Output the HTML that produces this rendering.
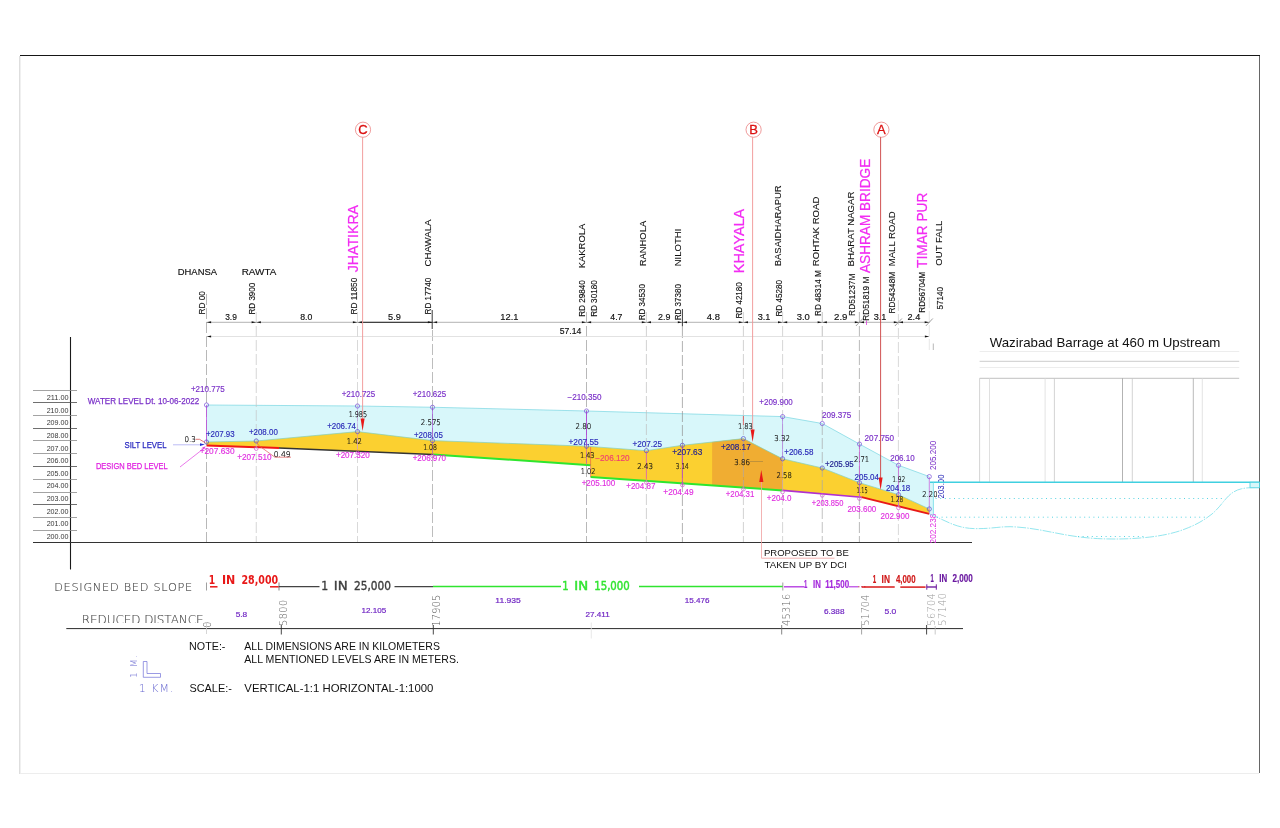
<!DOCTYPE html>
<html lang="en">
<head>
<meta charset="utf-8">
<title>Longitudinal Section</title>
<style>
html,body{margin:0;padding:0;background:#fff;}
body{width:1280px;height:828px;overflow:hidden;font-family:"Liberation Sans",sans-serif;}
svg{display:block;position:absolute;left:0;top:0;}
text{white-space:pre;}
</style>
</head>
<body>
<svg width="1280" height="828" viewBox="0 0 1280 828" font-family='"Liberation Sans", sans-serif'>
<rect x="0" y="0" width="1280" height="828" fill="#ffffff"/>
<g id="frame" shape-rendering="crispEdges">
<rect x="19" y="56" width="1" height="718" fill="#dedede"/>
<rect x="20" y="56" width="1" height="718" fill="#f0f0f0"/>
<rect x="20" y="773" width="1239" height="1" fill="#ededed"/>
<rect x="1259" y="55" width="1" height="718" fill="#666666"/>
<rect x="20" y="55" width="1240" height="1" fill="#161616"/>
</g>
<g id="scale">
<line x1="70.5" y1="337" x2="70.5" y2="569.5" stroke="#1a1a1a" stroke-width="1.1" />
<line x1="33" y1="390.5" x2="77" y2="390.5" stroke="#8c8c8c" stroke-width="0.8" />
<line x1="33" y1="402.5" x2="77" y2="402.5" stroke="#4a4a4a" stroke-width="0.8" />
<line x1="33" y1="415.5" x2="77" y2="415.5" stroke="#8c8c8c" stroke-width="0.8" />
<line x1="33" y1="428.5" x2="77" y2="428.5" stroke="#4a4a4a" stroke-width="0.8" />
<line x1="33" y1="440.5" x2="77" y2="440.5" stroke="#8c8c8c" stroke-width="0.8" />
<line x1="33" y1="453.5" x2="77" y2="453.5" stroke="#8c8c8c" stroke-width="0.8" />
<line x1="33" y1="466.5" x2="77" y2="466.5" stroke="#4a4a4a" stroke-width="0.8" />
<line x1="33" y1="479.5" x2="77" y2="479.5" stroke="#8c8c8c" stroke-width="0.8" />
<line x1="33" y1="492.5" x2="77" y2="492.5" stroke="#8c8c8c" stroke-width="0.8" />
<line x1="33" y1="504.5" x2="77" y2="504.5" stroke="#4a4a4a" stroke-width="0.8" />
<line x1="33" y1="517.5" x2="77" y2="517.5" stroke="#8c8c8c" stroke-width="0.8" />
<line x1="33" y1="530.5" x2="77" y2="530.5" stroke="#8c8c8c" stroke-width="0.8" />
<line x1="33" y1="542.5" x2="972" y2="542.5" stroke="#333" stroke-width="1" />
<text x="46.63" y="400.06" font-size="8.0" fill="#1a1a1a" textLength="21.92" lengthAdjust="spacingAndGlyphs" opacity="0.9">211.00</text>
<text x="46.64" y="412.69" font-size="8.0" fill="#1a1a1a" textLength="21.90" lengthAdjust="spacingAndGlyphs" opacity="0.9">210.00</text>
<text x="46.64" y="425.32" font-size="8.0" fill="#1a1a1a" textLength="21.90" lengthAdjust="spacingAndGlyphs" opacity="0.9">209.00</text>
<text x="46.64" y="437.95" font-size="8.0" fill="#1a1a1a" textLength="21.90" lengthAdjust="spacingAndGlyphs" opacity="0.9">208.00</text>
<text x="46.64" y="450.58" font-size="8.0" fill="#1a1a1a" textLength="21.90" lengthAdjust="spacingAndGlyphs" opacity="0.9">207.00</text>
<text x="46.64" y="463.21" font-size="8.0" fill="#1a1a1a" textLength="21.90" lengthAdjust="spacingAndGlyphs" opacity="0.9">206.00</text>
<text x="46.64" y="475.84" font-size="8.0" fill="#1a1a1a" textLength="21.90" lengthAdjust="spacingAndGlyphs" opacity="0.9">205.00</text>
<text x="46.64" y="488.47" font-size="8.0" fill="#1a1a1a" textLength="21.90" lengthAdjust="spacingAndGlyphs" opacity="0.9">204.00</text>
<text x="46.64" y="501.10" font-size="8.0" fill="#1a1a1a" textLength="21.90" lengthAdjust="spacingAndGlyphs" opacity="0.9">203.00</text>
<text x="46.64" y="513.73" font-size="8.0" fill="#1a1a1a" textLength="21.90" lengthAdjust="spacingAndGlyphs" opacity="0.9">202.00</text>
<text x="46.64" y="526.36" font-size="8.0" fill="#1a1a1a" textLength="21.90" lengthAdjust="spacingAndGlyphs" opacity="0.9">201.00</text>
<text x="46.64" y="538.99" font-size="8.0" fill="#1a1a1a" textLength="21.90" lengthAdjust="spacingAndGlyphs" opacity="0.9">200.00</text>
</g>
<g id="profile">
<polygon points="206.50,405.00 357.50,406.00 432.50,407.25 586.50,411.00 782.60,416.60 822.25,423.50 859.50,444.10 898.50,465.30 929.30,476.60 929.30,513.80 929.30,509.00 898.50,494.70 859.50,482.70 822.25,468.00 782.60,458.80 743.40,438.60 682.40,445.30 646.40,450.70 586.50,446.20 432.50,440.60 357.50,431.60 256.25,441.00 206.50,442.00" fill="#d8f7fa"/>
<polygon points="206.50,442.00 256.25,441.00 357.50,431.60 432.50,440.60 586.50,446.20 646.40,450.70 682.40,445.30 743.40,438.60 782.60,458.80 822.25,468.00 859.50,482.70 898.50,494.70 929.30,509.00 929.30,513.90 926.60,513.20 861.60,497.20 782.60,490.40 590.60,477.10 590.60,465.20 433.00,454.40 279.00,447.90 206.50,445.50" fill="#fbd030"/>
<rect x="929.3" y="482.3" width="4.1" height="31.6" fill="#d8f7fa"/>
<polygon points="712.10,442.04 743.40,438.60 782.60,458.80 782.60,490.40 712.10,485.52" fill="#f0ad32"/>
<polyline points="206.50,405.00 357.50,406.00 432.50,407.25 586.50,411.00 782.60,416.60 822.25,423.50 859.50,444.10 898.50,465.30 929.30,476.60" fill="none" stroke="#86dbe5" stroke-width="0.8"/>
<polyline points="206.50,442.00 256.25,441.00 357.50,431.60 432.50,440.60 586.50,446.20 646.40,450.70 682.40,445.30 743.40,438.60 782.60,458.80 822.25,468.00 859.50,482.70 898.50,494.70 929.30,509.00" fill="none" stroke="#7ccfc0" stroke-width="0.7"/>
<line x1="206.5" y1="445.5" x2="279" y2="447.9" stroke="#f01818" stroke-width="2" stroke-linecap="butt"/>
<line x1="279" y1="447.9" x2="433" y2="454.4" stroke="#333" stroke-width="1.5" stroke-linecap="butt"/>
<line x1="433" y1="454.4" x2="590.6" y2="465.2" stroke="#2ee62e" stroke-width="2.0" stroke-linecap="butt"/>
<line x1="590.6" y1="477.1" x2="782.6" y2="490.4" stroke="#2ee62e" stroke-width="2.0" stroke-linecap="butt"/>
<line x1="782.6" y1="490.4" x2="861.6" y2="497.2" stroke="#b030d0" stroke-width="1.6" stroke-linecap="butt"/>
<line x1="861.6" y1="497.2" x2="929.3" y2="513.9" stroke="#e81818" stroke-width="1.9" stroke-linecap="butt"/>
</g>
<g id="dashes" stroke-width="0.7" stroke-dasharray="11 3">
<line x1="206.5" y1="294" x2="206.5" y2="542" stroke="#9a9a9a"/>
<line x1="256.25" y1="312" x2="256.25" y2="542" stroke="#c4c4c4"/>
<line x1="357.5" y1="312" x2="357.5" y2="542" stroke="#c8c8c8"/>
<line x1="432.5" y1="330" x2="432.5" y2="542" stroke="#a0a0a0"/>
<line x1="586.5" y1="312" x2="586.5" y2="542" stroke="#9a9a9a"/>
<line x1="646.4" y1="312" x2="646.4" y2="542" stroke="#c0c0c0"/>
<line x1="682.4" y1="327" x2="682.4" y2="542" stroke="#909090"/>
<line x1="743.4" y1="312" x2="743.4" y2="542" stroke="#c0c0c0"/>
<line x1="782.6" y1="312" x2="782.6" y2="542" stroke="#c4c4c4"/>
<line x1="822.25" y1="312" x2="822.25" y2="542" stroke="#a8a8a8"/>
<line x1="859.4" y1="312" x2="859.4" y2="542" stroke="#9c9c9c"/>
<line x1="898.4" y1="300" x2="898.4" y2="542" stroke="#c8c8c8"/>
<line x1="929.3" y1="297" x2="929.3" y2="350" stroke="#dcdcdc"/>
</g>
<line x1="933.3" y1="343.5" x2="933.3" y2="350" stroke="#999" stroke-width="0.7" />
<g id="stlines">
<line x1="206.5" y1="405" x2="206.5" y2="442" stroke="#c048e0" stroke-width="0.9" opacity="0.85"/>
<line x1="357.5" y1="406" x2="357.5" y2="431.5" stroke="#b060e0" stroke-width="0.63" opacity="0.51"/>
<line x1="357.5" y1="432" x2="357.5" y2="450" stroke="#e060c0" stroke-width="0.63" opacity="0.51"/>
<line x1="432.5" y1="407.3" x2="432.5" y2="440" stroke="#a040d8" stroke-width="0.9" opacity="0.68"/>
<line x1="432.5" y1="440" x2="432.5" y2="454.5" stroke="#c040c0" stroke-width="0.81" opacity="0.51"/>
<line x1="586.5" y1="411" x2="586.5" y2="446" stroke="#b040d8" stroke-width="0.99" opacity="0.85"/>
<line x1="586.5" y1="446" x2="586.5" y2="465" stroke="#d050b0" stroke-width="0.81" opacity="0.68"/>
<line x1="590.6" y1="447" x2="590.6" y2="477" stroke="#e84848" stroke-width="0.81" opacity="0.68"/>
<line x1="646.4" y1="451" x2="646.4" y2="479.5" stroke="#e850a0" stroke-width="0.81" opacity="0.85"/>
<line x1="682.4" y1="445.5" x2="682.4" y2="485.5" stroke="#c040c8" stroke-width="0.9" opacity="0.85"/>
<line x1="743.4" y1="416" x2="743.4" y2="425" stroke="#e03030" stroke-width="0.81" opacity="0.85"/>
<line x1="743.4" y1="439" x2="743.4" y2="488" stroke="#b08050" stroke-width="0.54" opacity="0.59"/>
<line x1="782.6" y1="417" x2="782.6" y2="458.5" stroke="#a860e0" stroke-width="0.72" opacity="0.85"/>
<line x1="782.6" y1="459" x2="782.6" y2="491" stroke="#c880a0" stroke-width="0.54" opacity="0.59"/>
<line x1="859.5" y1="444.5" x2="859.5" y2="497" stroke="#d050d0" stroke-width="0.81" opacity="0.85"/>
<line x1="898.5" y1="465.5" x2="898.5" y2="506" stroke="#c858d8" stroke-width="0.81" opacity="0.85"/>
<line x1="929.3" y1="477" x2="929.3" y2="513.5" stroke="#c050d8" stroke-width="0.81" opacity="0.85"/>
</g>
<g id="circ" fill="none" stroke-width="0.7">
<circle cx="206.5" cy="405" r="2.1" stroke="#7a50d8"/>
<circle cx="357.5" cy="406" r="2.1" stroke="#7a50d8"/>
<circle cx="432.5" cy="407.25" r="2.1" stroke="#7a50d8"/>
<circle cx="586.5" cy="411" r="2.1" stroke="#7a50d8"/>
<circle cx="782.6" cy="416.6" r="2.1" stroke="#7a50d8"/>
<circle cx="822.25" cy="423.5" r="2.1" stroke="#7a50d8"/>
<circle cx="859.5" cy="444.1" r="2.1" stroke="#7a50d8"/>
<circle cx="898.5" cy="465.3" r="2.1" stroke="#7a50d8"/>
<circle cx="929.3" cy="476.6" r="2.1" stroke="#7a50d8"/>
<circle cx="206.5" cy="442" r="2.1" stroke="#5a50c8"/>
<circle cx="256.25" cy="441" r="2.1" stroke="#5a50c8"/>
<circle cx="357.5" cy="431.6" r="2.1" stroke="#5a50c8"/>
<circle cx="432.5" cy="440.6" r="2.1" stroke="#5a50c8"/>
<circle cx="586.5" cy="446.2" r="2.1" stroke="#5a50c8"/>
<circle cx="646.4" cy="450.7" r="2.1" stroke="#5a50c8"/>
<circle cx="682.4" cy="445.3" r="2.1" stroke="#5a50c8"/>
<circle cx="743.4" cy="438.6" r="2.1" stroke="#5a50c8"/>
<circle cx="782.6" cy="458.8" r="2.1" stroke="#5a50c8"/>
<circle cx="822.25" cy="468" r="2.1" stroke="#5a50c8"/>
<circle cx="859.5" cy="482.7" r="2.1" stroke="#5a50c8"/>
<circle cx="898.5" cy="494.7" r="2.1" stroke="#5a50c8"/>
<circle cx="929.3" cy="509" r="2.1" stroke="#5a50c8"/>
<circle cx="256.25" cy="448.7" r="1.8" stroke="#d050d0"/>
<circle cx="357.5" cy="452.8" r="1.8" stroke="#d050d0"/>
<circle cx="432.5" cy="456.0" r="1.8" stroke="#d050d0"/>
<circle cx="646.4" cy="482.6" r="1.8" stroke="#d050d0"/>
<circle cx="682.4" cy="485.1" r="1.8" stroke="#d050d0"/>
<circle cx="743.4" cy="489.3" r="1.8" stroke="#d050d0"/>
<circle cx="782.6" cy="492.0" r="1.8" stroke="#d050d0"/>
<circle cx="822.25" cy="495.4" r="1.8" stroke="#d050d0"/>
<circle cx="859.4" cy="498.6" r="1.8" stroke="#d050d0"/>
<circle cx="898.4" cy="507.9" r="1.8" stroke="#d050d0"/>
</g>
<g id="dims">
<line x1="206.5" y1="322.3" x2="929.5" y2="322.3" stroke="#a0a0a0" stroke-width="0.8" />
<line x1="362.5" y1="322.3" x2="432.5" y2="322.3" stroke="#222" stroke-width="1" />
<line x1="206.5" y1="336.5" x2="929.5" y2="336.5" stroke="#dadada" stroke-width="0.8" />
<polygon points="206.8,322.3 211.1,321.3 211.1,323.3" fill="#111"/>
<polygon points="255.95,322.3 251.65,321.3 251.65,323.3" fill="#111"/>
<polygon points="256.55,322.3 260.85,321.3 260.85,323.3" fill="#111"/>
<polygon points="357.2,322.3 352.9,321.3 352.9,323.3" fill="#111"/>
<polygon points="357.8,322.3 362.1,321.3 362.1,323.3" fill="#111"/>
<polygon points="432.2,322.3 427.9,321.3 427.9,323.3" fill="#111"/>
<polygon points="432.8,322.3 437.1,321.3 437.1,323.3" fill="#111"/>
<polygon points="586.2,322.3 581.9,321.3 581.9,323.3" fill="#111"/>
<polygon points="586.8,322.3 591.1,321.3 591.1,323.3" fill="#111"/>
<polygon points="646.1,322.3 641.8,321.3 641.8,323.3" fill="#111"/>
<polygon points="646.6999999999999,322.3 651.0,321.3 651.0,323.3" fill="#111"/>
<polygon points="682.1,322.3 677.8,321.3 677.8,323.3" fill="#111"/>
<polygon points="682.6999999999999,322.3 687.0,321.3 687.0,323.3" fill="#111"/>
<polygon points="743.1,322.3 738.8,321.3 738.8,323.3" fill="#111"/>
<polygon points="743.6999999999999,322.3 748.0,321.3 748.0,323.3" fill="#111"/>
<polygon points="782.3000000000001,322.3 778.0,321.3 778.0,323.3" fill="#111"/>
<polygon points="782.9,322.3 787.2,321.3 787.2,323.3" fill="#111"/>
<polygon points="821.95,322.3 817.65,321.3 817.65,323.3" fill="#111"/>
<polygon points="822.55,322.3 826.85,321.3 826.85,323.3" fill="#111"/>
<polygon points="859.1,322.3 854.8,321.3 854.8,323.3" fill="#111"/>
<polygon points="859.6999999999999,322.3 864.0,321.3 864.0,323.3" fill="#111"/>
<polygon points="898.1,322.3 893.8,321.3 893.8,323.3" fill="#111"/>
<polygon points="898.6999999999999,322.3 903.0,321.3 903.0,323.3" fill="#111"/>
<polygon points="929.0,322.3 924.6999999999999,321.3 924.6999999999999,323.3" fill="#111"/>
<polygon points="206.8,336.5 211.1,335.5 211.1,337.5" fill="#111"/>
<polygon points="929.2,336.5 924.9,335.5 924.9,337.5" fill="#111"/>
<text x="225.21" y="319.77" font-size="8.6" fill="#111" textLength="11.67" lengthAdjust="spacingAndGlyphs" stroke="#111" stroke-width="0.15">3.9</text>
<text x="300.15" y="319.77" font-size="8.6" fill="#111" textLength="12.16" lengthAdjust="spacingAndGlyphs" stroke="#111" stroke-width="0.15">8.0</text>
<text x="388.13" y="319.77" font-size="8.6" fill="#111" textLength="12.78" lengthAdjust="spacingAndGlyphs" stroke="#111" stroke-width="0.15">5.9</text>
<text x="500.30" y="319.81" font-size="8.6" fill="#111" textLength="18.13" lengthAdjust="spacingAndGlyphs" stroke="#111" stroke-width="0.15">12.1</text>
<text x="610.33" y="319.77" font-size="8.6" fill="#111" textLength="12.07" lengthAdjust="spacingAndGlyphs" stroke="#111" stroke-width="0.15">4.7</text>
<text x="658.06" y="319.77" font-size="8.6" fill="#111" textLength="12.35" lengthAdjust="spacingAndGlyphs" stroke="#111" stroke-width="0.15">2.9</text>
<text x="706.81" y="319.77" font-size="8.6" fill="#111" textLength="13.07" lengthAdjust="spacingAndGlyphs" stroke="#111" stroke-width="0.15">4.8</text>
<text x="757.68" y="319.77" font-size="8.6" fill="#111" textLength="12.73" lengthAdjust="spacingAndGlyphs" stroke="#111" stroke-width="0.15">3.1</text>
<text x="796.67" y="319.77" font-size="8.6" fill="#111" textLength="13.16" lengthAdjust="spacingAndGlyphs" stroke="#111" stroke-width="0.15">3.0</text>
<text x="834.02" y="319.77" font-size="8.6" fill="#111" textLength="13.42" lengthAdjust="spacingAndGlyphs" stroke="#111" stroke-width="0.15">2.9</text>
<text x="873.68" y="319.77" font-size="8.6" fill="#111" textLength="12.73" lengthAdjust="spacingAndGlyphs" stroke="#111" stroke-width="0.15">3.1</text>
<text x="907.54" y="319.81" font-size="8.6" fill="#111" textLength="12.69" lengthAdjust="spacingAndGlyphs" stroke="#111" stroke-width="0.15">2.4</text>
<text x="559.66" y="334.22" font-size="8.6" fill="#111" textLength="21.58" lengthAdjust="spacingAndGlyphs" stroke="#111" stroke-width="0.15">57.14</text>
<line x1="432.2" y1="310" x2="432.2" y2="329" stroke="#222" stroke-width="0.9" />
<line x1="682.4" y1="309" x2="682.4" y2="326.5" stroke="#222" stroke-width="0.9" />
<line x1="855.9" y1="326" x2="862.9" y2="318.5" stroke="#777" stroke-width="0.7" />
<line x1="894.9" y1="326" x2="901.9" y2="318.5" stroke="#777" stroke-width="0.7" />
<line x1="925.8" y1="326" x2="932.8" y2="318.5" stroke="#777" stroke-width="0.7" />
<line x1="866.5" y1="320.5" x2="866.5" y2="325" stroke="#e040e0" stroke-width="0.8" />
</g>
<g id="rd">
<text x="204.90" y="314.46" transform="rotate(-90 204.90 314.46)" font-size="8.4" fill="#111" textLength="23.45" lengthAdjust="spacingAndGlyphs" stroke="#111" stroke-width="0.12">RD 00</text>
<text x="255.40" y="314.44" transform="rotate(-90 255.40 314.44)" font-size="8.4" fill="#111" textLength="31.74" lengthAdjust="spacingAndGlyphs" stroke="#111" stroke-width="0.12">RD 3900</text>
<text x="356.70" y="314.46" transform="rotate(-90 356.70 314.46)" font-size="8.4" fill="#111" textLength="36.74" lengthAdjust="spacingAndGlyphs" stroke="#111" stroke-width="0.12">RD 11850</text>
<text x="431.20" y="314.45" transform="rotate(-90 431.20 314.45)" font-size="8.4" fill="#111" textLength="36.76" lengthAdjust="spacingAndGlyphs" stroke="#111" stroke-width="0.12">RD 17740</text>
<text x="585.00" y="316.85" transform="rotate(-90 585.00 316.85)" font-size="8.4" fill="#111" textLength="36.56" lengthAdjust="spacingAndGlyphs" stroke="#111" stroke-width="0.12">RD 29840</text>
<text x="597.20" y="316.85" transform="rotate(-90 597.20 316.85)" font-size="8.4" fill="#111" textLength="36.56" lengthAdjust="spacingAndGlyphs" stroke="#111" stroke-width="0.12">RD 30180</text>
<text x="645.40" y="320.24" transform="rotate(-90 645.40 320.24)" font-size="8.4" fill="#111" textLength="36.15" lengthAdjust="spacingAndGlyphs" stroke="#111" stroke-width="0.12">RD 34530</text>
<text x="681.40" y="320.24" transform="rotate(-90 681.40 320.24)" font-size="8.4" fill="#111" textLength="36.15" lengthAdjust="spacingAndGlyphs" stroke="#111" stroke-width="0.12">RD 37380</text>
<text x="742.50" y="318.44" transform="rotate(-90 742.50 318.44)" font-size="8.4" fill="#111" textLength="36.25" lengthAdjust="spacingAndGlyphs" stroke="#111" stroke-width="0.12">RD 42180</text>
<text x="781.70" y="316.55" transform="rotate(-90 781.70 316.55)" font-size="8.4" fill="#111" textLength="36.56" lengthAdjust="spacingAndGlyphs" stroke="#111" stroke-width="0.12">RD 45280</text>
<text x="821.00" y="315.95" transform="rotate(-90 821.00 315.95)" font-size="8.4" fill="#111" textLength="45.69" lengthAdjust="spacingAndGlyphs" stroke="#111" stroke-width="0.12">RD 48314 M</text>
<text x="855.10" y="315.87" transform="rotate(-90 855.10 315.87)" font-size="8.4" fill="#111" textLength="42.32" lengthAdjust="spacingAndGlyphs" stroke="#111" stroke-width="0.12">RD51237M</text>
<text x="868.90" y="320.66" transform="rotate(-90 868.90 320.66)" font-size="8.4" fill="#111" textLength="43.99" lengthAdjust="spacingAndGlyphs" stroke="#111" stroke-width="0.12">RD51819 M</text>
<text x="895.40" y="313.46" transform="rotate(-90 895.40 313.46)" font-size="8.4" fill="#111" textLength="41.60" lengthAdjust="spacingAndGlyphs" stroke="#111" stroke-width="0.12">RD54348M</text>
<text x="924.70" y="312.64" transform="rotate(-90 924.70 312.64)" font-size="8.4" fill="#111" textLength="40.78" lengthAdjust="spacingAndGlyphs" stroke="#111" stroke-width="0.12">RD56704M</text>
<text x="943.10" y="309.42" transform="rotate(-90 943.10 309.42)" font-size="8.4" fill="#111" textLength="22.41" lengthAdjust="spacingAndGlyphs" stroke="#111" stroke-width="0.12">57140</text>
</g>
<g id="names">
<text x="177.75" y="275.11" font-size="9.6" fill="#111" textLength="39.28" lengthAdjust="spacingAndGlyphs" stroke="#111" stroke-width="0.15">DHANSA</text>
<text x="241.71" y="275.11" font-size="9.6" fill="#111" textLength="34.59" lengthAdjust="spacingAndGlyphs" stroke="#111" stroke-width="0.15">RAWTA</text>
<text x="430.91" y="266.48" transform="rotate(-90 430.91 266.48)" font-size="9.6" fill="#111" textLength="46.99" lengthAdjust="spacingAndGlyphs" stroke="#111" stroke-width="0.08">CHAWALA</text>
<text x="585.11" y="268.25" transform="rotate(-90 585.11 268.25)" font-size="9.6" fill="#111" textLength="44.49" lengthAdjust="spacingAndGlyphs" stroke="#111" stroke-width="0.08">KAKROLA</text>
<text x="645.81" y="266.25" transform="rotate(-90 645.81 266.25)" font-size="9.6" fill="#111" textLength="45.45" lengthAdjust="spacingAndGlyphs" stroke="#111" stroke-width="0.08">RANHOLA</text>
<text x="681.11" y="266.26" transform="rotate(-90 681.11 266.26)" font-size="9.6" fill="#111" textLength="37.62" lengthAdjust="spacingAndGlyphs" stroke="#111" stroke-width="0.08">NILOTHI</text>
<text x="781.11" y="266.26" transform="rotate(-90 781.11 266.26)" font-size="9.6" fill="#111" textLength="80.86" lengthAdjust="spacingAndGlyphs" stroke="#111" stroke-width="0.08">BASAIDHARAPUR</text>
<text x="819.11" y="266.27" transform="rotate(-90 819.11 266.27)" font-size="9.6" fill="#111" textLength="69.70" lengthAdjust="spacingAndGlyphs" stroke="#111" stroke-width="0.08">ROHTAK ROAD</text>
<text x="854.51" y="266.37" transform="rotate(-90 854.51 266.37)" font-size="9.6" fill="#111" textLength="74.78" lengthAdjust="spacingAndGlyphs" stroke="#111" stroke-width="0.08">BHARAT NAGAR</text>
<text x="894.81" y="266.27" transform="rotate(-90 894.81 266.27)" font-size="9.6" fill="#111" textLength="54.92" lengthAdjust="spacingAndGlyphs" stroke="#111" stroke-width="0.08">MALL ROAD</text>
<text x="941.51" y="265.63" transform="rotate(-90 941.51 265.63)" font-size="9.6" fill="#111" textLength="44.92" lengthAdjust="spacingAndGlyphs" stroke="#111" stroke-width="0.08">OUT FALL</text>
<text x="358.36" y="272.21" transform="rotate(-90 358.36 272.21)" font-size="14" fill="#f22cf2" textLength="67.21" lengthAdjust="spacingAndGlyphs" stroke="#f22cf2" stroke-width="0.22">JHATIKRA</text>
<text x="744.33" y="273.15" transform="rotate(-90 744.33 273.15)" font-size="14" fill="#f22cf2" textLength="64.35" lengthAdjust="spacingAndGlyphs" stroke="#f22cf2" stroke-width="0.22">KHAYALA</text>
<text x="870.23" y="273.00" transform="rotate(-90 870.23 273.00)" font-size="14" fill="#f22cf2" textLength="114.25" lengthAdjust="spacingAndGlyphs" stroke="#f22cf2" stroke-width="0.22">ASHRAM BRIDGE</text>
<text x="927.46" y="267.87" transform="rotate(-90 927.46 267.87)" font-size="14" fill="#f22cf2" textLength="75.22" lengthAdjust="spacingAndGlyphs" stroke="#f22cf2" stroke-width="0.22">TIMAR PUR</text>
</g>
<g id="markers">
<circle cx="363" cy="129.7" r="7.6" fill="#fff" stroke="#e87070" stroke-width="0.7"/>
<text x="363" y="134.4" font-size="13" fill="#dc1010" stroke="#dc1010" stroke-width="0.3" text-anchor="middle" font-family='"Liberation Sans", sans-serif'>C</text>
<line x1="362.6" y1="137.2" x2="362.6" y2="423" stroke="#f09494" stroke-width="0.9" />
<polygon points="360.6,418.5 364.6,418.5 362.6,431" fill="#e81818"/>
<circle cx="753.6" cy="129.7" r="7.6" fill="#fff" stroke="#e87070" stroke-width="0.7"/>
<text x="753.6" y="134.4" font-size="13" fill="#dc1010" stroke="#dc1010" stroke-width="0.3" text-anchor="middle" font-family='"Liberation Sans", sans-serif'>B</text>
<line x1="752.6" y1="137.2" x2="752.6" y2="434" stroke="#f09494" stroke-width="0.9" />
<polygon points="750.6,429.5 754.6,429.5 752.6,442" fill="#e81818"/>
<circle cx="881.4" cy="129.7" r="7.6" fill="#fff" stroke="#e87070" stroke-width="0.7"/>
<text x="881.4" y="134.4" font-size="13" fill="#dc1010" stroke="#dc1010" stroke-width="0.3" text-anchor="middle" font-family='"Liberation Sans", sans-serif'>A</text>
<line x1="880.6" y1="137.2" x2="880.6" y2="482" stroke="#cc4040" stroke-width="0.9" />
<polygon points="878.6,477.5 882.6,477.5 880.6,490" fill="#e81818"/>
<polygon points="759.2,482 763.4,482 761.3,470" fill="#e81818"/>
<polyline points="761.5,482 761.5,558.2 834.5,558.2" fill="none" stroke="#f0a0a0" stroke-width="0.8"/>
<text x="763.94" y="555.81" font-size="9.6" fill="#111" textLength="84.85" lengthAdjust="spacingAndGlyphs">PROPOSED TO BE</text>
<text x="764.51" y="568.01" font-size="9.6" fill="#111" textLength="82.34" lengthAdjust="spacingAndGlyphs">TAKEN UP BY DCI</text>
</g>
<g id="leftlab">
<text x="87.80" y="404.38" font-size="9.8" fill="#7a30c8" textLength="111.38" lengthAdjust="spacingAndGlyphs" stroke="#7a30c8" stroke-width="0.25">WATER LEVEL Dt. 10-06-2022</text>
<text x="124.45" y="447.78" font-size="9.8" fill="#2828c0" textLength="42.09" lengthAdjust="spacingAndGlyphs" stroke="#2828c0" stroke-width="0.25">SILT LEVEL</text>
<text x="95.90" y="468.98" font-size="9.8" fill="#e020e0" textLength="71.82" lengthAdjust="spacingAndGlyphs" stroke="#e020e0" stroke-width="0.25">DESIGN BED LEVEL</text>
<line x1="173" y1="444.8" x2="201" y2="444.8" stroke="#a0a0f0" stroke-width="0.7" />
<polygon points="204.8,444.6 200,443.3 200,445.9" fill="#2030d0"/>
<polyline points="180,467 205,447.5" fill="none" stroke="#e040e0" stroke-width="0.7"/>
<polygon points="205.8,446.2 202.2,447.6 203.8,449.6" fill="#e040e0"/>
</g>
<g id="levels">
<text x="190.94" y="392.40" font-size="8.4" fill="#7a30c8" textLength="33.67" lengthAdjust="spacingAndGlyphs" stroke="#7a30c8" stroke-width="0.15">+210.775</text>
<text x="341.64" y="397.20" font-size="8.4" fill="#7a30c8" textLength="33.67" lengthAdjust="spacingAndGlyphs" stroke="#7a30c8" stroke-width="0.15">+210.725</text>
<text x="412.64" y="397.20" font-size="8.4" fill="#7a30c8" textLength="33.47" lengthAdjust="spacingAndGlyphs" stroke="#7a30c8" stroke-width="0.15">+210.625</text>
<text x="567.54" y="400.20" font-size="8.4" fill="#7a30c8" textLength="34.04" lengthAdjust="spacingAndGlyphs" stroke="#7a30c8" stroke-width="0.15">−210.350</text>
<text x="759.34" y="405.40" font-size="8.4" fill="#7a30c8" textLength="33.43" lengthAdjust="spacingAndGlyphs" stroke="#7a30c8" stroke-width="0.15">+209.900</text>
<text x="822.10" y="417.60" font-size="8.4" fill="#7a30c8" textLength="29.23" lengthAdjust="spacingAndGlyphs" stroke="#7a30c8" stroke-width="0.15">209.375</text>
<text x="864.59" y="441.00" font-size="8.4" fill="#7a30c8" textLength="29.49" lengthAdjust="spacingAndGlyphs" stroke="#7a30c8" stroke-width="0.15">207.750</text>
<text x="890.20" y="460.70" font-size="8.4" fill="#7a30c8" textLength="24.47" lengthAdjust="spacingAndGlyphs" stroke="#7a30c8" stroke-width="0.15">206.10</text>
<text x="205.95" y="436.70" font-size="8.4" fill="#2a2ab8" textLength="28.69" lengthAdjust="spacingAndGlyphs" stroke="#2a2ab8" stroke-width="0.15">+207.93</text>
<text x="248.94" y="435.40" font-size="8.4" fill="#2a2ab8" textLength="28.85" lengthAdjust="spacingAndGlyphs" stroke="#2a2ab8" stroke-width="0.15">+208.00</text>
<text x="327.14" y="429.20" font-size="8.4" fill="#2a2ab8" textLength="28.88" lengthAdjust="spacingAndGlyphs" stroke="#2a2ab8" stroke-width="0.15">+206.74</text>
<text x="413.94" y="437.90" font-size="8.4" fill="#2a2ab8" textLength="28.90" lengthAdjust="spacingAndGlyphs" stroke="#2a2ab8" stroke-width="0.15">+208.05</text>
<text x="568.43" y="444.80" font-size="8.4" fill="#2a2ab8" textLength="30.33" lengthAdjust="spacingAndGlyphs" stroke="#2a2ab8" stroke-width="0.15">+207.55</text>
<text x="632.43" y="446.70" font-size="8.4" fill="#2a2ab8" textLength="29.72" lengthAdjust="spacingAndGlyphs" stroke="#2a2ab8" stroke-width="0.15">+207.25</text>
<text x="672.13" y="454.70" font-size="8.4" fill="#202090" textLength="30.23" lengthAdjust="spacingAndGlyphs" stroke="#202090" stroke-width="0.15">+207.63</text>
<text x="720.93" y="449.90" font-size="8.4" fill="#202090" textLength="29.76" lengthAdjust="spacingAndGlyphs" stroke="#202090" stroke-width="0.15">+208.17</text>
<text x="784.24" y="455.10" font-size="8.4" fill="#2a2ab8" textLength="29.20" lengthAdjust="spacingAndGlyphs" stroke="#2a2ab8" stroke-width="0.15">+206.58</text>
<text x="824.94" y="466.90" font-size="8.4" fill="#202090" textLength="28.79" lengthAdjust="spacingAndGlyphs" stroke="#202090" stroke-width="0.15">+205.95</text>
<text x="854.60" y="480.40" font-size="8.4" fill="#2a2ab8" textLength="24.39" lengthAdjust="spacingAndGlyphs" stroke="#2a2ab8" stroke-width="0.15">205.04</text>
<text x="885.90" y="490.70" font-size="8.4" fill="#2a2ab8" textLength="24.41" lengthAdjust="spacingAndGlyphs" stroke="#2a2ab8" stroke-width="0.15">204.18</text>
<text x="199.63" y="454.20" font-size="8.4" fill="#e030e0" textLength="34.96" lengthAdjust="spacingAndGlyphs" stroke="#e030e0" stroke-width="0.15">+207.630</text>
<text x="237.13" y="459.90" font-size="8.4" fill="#e030e0" textLength="34.45" lengthAdjust="spacingAndGlyphs" stroke="#e030e0" stroke-width="0.15">+207.510</text>
<text x="335.94" y="457.90" font-size="8.4" fill="#e030e0" textLength="33.84" lengthAdjust="spacingAndGlyphs" stroke="#e030e0" stroke-width="0.15">+207.320</text>
<text x="412.64" y="461.20" font-size="8.4" fill="#e030e0" textLength="33.43" lengthAdjust="spacingAndGlyphs" stroke="#e030e0" stroke-width="0.15">+206.970</text>
<text x="595.23" y="460.70" font-size="8.4" fill="#f04070" textLength="34.45" lengthAdjust="spacingAndGlyphs" stroke="#f04070" stroke-width="0.15">−206.120</text>
<text x="581.64" y="486.00" font-size="8.4" fill="#e030e0" textLength="33.63" lengthAdjust="spacingAndGlyphs" stroke="#e030e0" stroke-width="0.15">+205.100</text>
<text x="626.24" y="488.50" font-size="8.4" fill="#e030e0" textLength="29.14" lengthAdjust="spacingAndGlyphs" stroke="#e030e0" stroke-width="0.15">+204.87</text>
<text x="663.33" y="495.00" font-size="8.4" fill="#e030e0" textLength="30.17" lengthAdjust="spacingAndGlyphs" stroke="#e030e0" stroke-width="0.15">+204.49</text>
<text x="725.65" y="496.90" font-size="8.4" fill="#e030e0" textLength="28.73" lengthAdjust="spacingAndGlyphs" stroke="#e030e0" stroke-width="0.15">+204.31</text>
<text x="766.84" y="501.00" font-size="8.4" fill="#e030e0" textLength="24.65" lengthAdjust="spacingAndGlyphs" stroke="#e030e0" stroke-width="0.15">+204.0</text>
<text x="811.86" y="506.10" font-size="8.4" fill="#e030e0" textLength="31.49" lengthAdjust="spacingAndGlyphs" stroke="#e030e0" stroke-width="0.15">+203.850</text>
<text x="847.40" y="511.90" font-size="8.4" fill="#e030e0" textLength="28.88" lengthAdjust="spacingAndGlyphs" stroke="#e030e0" stroke-width="0.15">203.600</text>
<text x="880.60" y="519.20" font-size="8.4" fill="#e030e0" textLength="28.78" lengthAdjust="spacingAndGlyphs" stroke="#e030e0" stroke-width="0.15">202.900</text>
<text x="184.40" y="442.35" font-size="7.8" fill="#141414" textLength="11.32" lengthAdjust="spacingAndGlyphs" font-family='"DejaVu Sans Light", "DejaVu Sans", sans-serif' stroke="#141414" stroke-width="0.22">0.3</text>
<text x="273.65" y="457.15" font-size="7.8" fill="#141414" textLength="17.01" lengthAdjust="spacingAndGlyphs" font-family='"DejaVu Sans Light", "DejaVu Sans", sans-serif' stroke="#141414" stroke-width="0.22">0.49</text>
<text x="348.63" y="417.35" font-size="7.8" fill="#141414" textLength="18.40" lengthAdjust="spacingAndGlyphs" font-family='"DejaVu Sans Light", "DejaVu Sans", sans-serif' stroke="#141414" stroke-width="0.22">1.985</text>
<text x="346.78" y="443.71" font-size="7.8" fill="#141414" textLength="15.17" lengthAdjust="spacingAndGlyphs" font-family='"DejaVu Sans Light", "DejaVu Sans", sans-serif' stroke="#141414" stroke-width="0.22">1.42</text>
<text x="420.85" y="425.35" font-size="7.8" fill="#141414" textLength="19.94" lengthAdjust="spacingAndGlyphs" font-family='"DejaVu Sans Light", "DejaVu Sans", sans-serif' stroke="#141414" stroke-width="0.22">2.575</text>
<text x="423.15" y="449.65" font-size="7.8" fill="#141414" textLength="13.71" lengthAdjust="spacingAndGlyphs" font-family='"DejaVu Sans Light", "DejaVu Sans", sans-serif' stroke="#141414" stroke-width="0.22">1.08</text>
<text x="575.54" y="428.85" font-size="7.8" fill="#141414" textLength="15.70" lengthAdjust="spacingAndGlyphs" font-family='"DejaVu Sans Light", "DejaVu Sans", sans-serif' stroke="#141414" stroke-width="0.22">2.80</text>
<text x="579.91" y="457.85" font-size="7.8" fill="#141414" textLength="14.55" lengthAdjust="spacingAndGlyphs" font-family='"DejaVu Sans Light", "DejaVu Sans", sans-serif' stroke="#141414" stroke-width="0.22">1.43</text>
<text x="580.82" y="474.35" font-size="7.8" fill="#141414" textLength="14.51" lengthAdjust="spacingAndGlyphs" font-family='"DejaVu Sans Light", "DejaVu Sans", sans-serif' stroke="#141414" stroke-width="0.22">1.02</text>
<text x="637.34" y="468.55" font-size="7.8" fill="#141414" textLength="15.78" lengthAdjust="spacingAndGlyphs" font-family='"DejaVu Sans Light", "DejaVu Sans", sans-serif' stroke="#141414" stroke-width="0.22">2.43</text>
<text x="675.86" y="468.55" font-size="7.8" fill="#141414" textLength="12.98" lengthAdjust="spacingAndGlyphs" font-family='"DejaVu Sans Light", "DejaVu Sans", sans-serif' stroke="#141414" stroke-width="0.22">3.14</text>
<text x="738.00" y="428.85" font-size="7.8" fill="#141414" textLength="14.88" lengthAdjust="spacingAndGlyphs" font-family='"DejaVu Sans Light", "DejaVu Sans", sans-serif' stroke="#141414" stroke-width="0.22">1.83</text>
<text x="734.27" y="465.35" font-size="7.8" fill="#141414" textLength="15.74" lengthAdjust="spacingAndGlyphs" font-family='"DejaVu Sans Light", "DejaVu Sans", sans-serif' stroke="#141414" stroke-width="0.22">3.86</text>
<text x="774.17" y="440.95" font-size="7.8" fill="#141414" textLength="15.82" lengthAdjust="spacingAndGlyphs" font-family='"DejaVu Sans Light", "DejaVu Sans", sans-serif' stroke="#141414" stroke-width="0.22">3.32</text>
<text x="776.55" y="478.45" font-size="7.8" fill="#141414" textLength="15.27" lengthAdjust="spacingAndGlyphs" font-family='"DejaVu Sans Light", "DejaVu Sans", sans-serif' stroke="#141414" stroke-width="0.22">2.58</text>
<text x="853.96" y="461.71" font-size="7.8" fill="#141414" textLength="15.24" lengthAdjust="spacingAndGlyphs" font-family='"DejaVu Sans Light", "DejaVu Sans", sans-serif' stroke="#141414" stroke-width="0.22">2.71</text>
<text x="856.48" y="493.39" font-size="7.8" fill="#141414" textLength="11.08" lengthAdjust="spacingAndGlyphs" font-family='"DejaVu Sans Light", "DejaVu Sans", sans-serif' stroke="#141414" stroke-width="0.22">1.15</text>
<text x="892.19" y="482.25" font-size="7.8" fill="#141414" textLength="12.97" lengthAdjust="spacingAndGlyphs" font-family='"DejaVu Sans Light", "DejaVu Sans", sans-serif' stroke="#141414" stroke-width="0.22">1.92</text>
<text x="890.39" y="501.85" font-size="7.8" fill="#141414" textLength="12.94" lengthAdjust="spacingAndGlyphs" font-family='"DejaVu Sans Light", "DejaVu Sans", sans-serif' stroke="#141414" stroke-width="0.22">1.28</text>
<text x="922.36" y="496.85" font-size="7.8" fill="#141414" textLength="15.17" lengthAdjust="spacingAndGlyphs" font-family='"DejaVu Sans Light", "DejaVu Sans", sans-serif' stroke="#141414" stroke-width="0.22">2.20</text>
<polyline points="195.5,439.3 199.5,439.3 205.4,442.8" fill="none" stroke="#d84040" stroke-width="0.7"/>
<polyline points="256.3,441.5 258.5,445.3 274.9,457.2 291,457.2" fill="none" stroke="#e05858" stroke-width="0.7"/>
<line x1="749.5" y1="461.5" x2="763" y2="461.5" stroke="#a08040" stroke-width="0.6" />
<text x="935.93" y="470.01" transform="rotate(-90 935.93 470.01)" font-size="8.2" fill="#7a30c8" textLength="29.29" lengthAdjust="spacingAndGlyphs">205.200</text>
<text x="944.33" y="498.39" transform="rotate(-90 944.33 498.39)" font-size="8.2" fill="#2a2ab8" textLength="23.96" lengthAdjust="spacingAndGlyphs">203.00</text>
<text x="935.93" y="543.41" transform="rotate(-90 935.93 543.41)" font-size="8.2" fill="#e030e0" textLength="29.74" lengthAdjust="spacingAndGlyphs">202.238</text>
</g>
<g id="slope">
<text x="54.14" y="591.32" font-size="11.3" fill="#444" letter-spacing="0.730" font-family='"DejaVu Sans Light", "DejaVu Sans", sans-serif' stroke="#444" stroke-width="0.12">DESIGNED BED SLOPE</text>
<line x1="206.5" y1="582.5" x2="206.5" y2="590.5" stroke="#888" stroke-width="0.8" />
<line x1="210" y1="586.8" x2="217.5" y2="586.8" stroke="#e81818" stroke-width="1.5" />
<line x1="270" y1="586.8" x2="278.8" y2="586.8" stroke="#e81818" stroke-width="1.5" />
<text y="583.56" font-size="11.4" fill="#e81818" font-family='"DejaVu Sans", sans-serif' font-weight="bold"><tspan x="208.78" textLength="6.42" lengthAdjust="spacingAndGlyphs">1</tspan> <tspan x="221.90" textLength="13.38" lengthAdjust="spacingAndGlyphs">IN</tspan> <tspan x="241.49" textLength="36.73" lengthAdjust="spacingAndGlyphs">28,000</tspan></text>
<line x1="279" y1="582.5" x2="279" y2="590.5" stroke="#666" stroke-width="0.8" />
<line x1="279" y1="586.6" x2="319.5" y2="586.6" stroke="#444" stroke-width="1.3" />
<text y="590.46" font-size="11.4" fill="#3c3c3c" font-family='"DejaVu Sans", sans-serif' stroke="#3c3c3c" stroke-width="0.35"><tspan x="321.15" textLength="6.94" lengthAdjust="spacingAndGlyphs">1</tspan> <tspan x="333.74" textLength="13.87" lengthAdjust="spacingAndGlyphs">IN</tspan> <tspan x="353.96" textLength="37.02" lengthAdjust="spacingAndGlyphs">25,000</tspan></text>
<line x1="394.5" y1="586.6" x2="433" y2="586.6" stroke="#444" stroke-width="1.3" />
<line x1="433" y1="586.6" x2="561" y2="586.6" stroke="#30e430" stroke-width="1.5" />
<text y="590.46" font-size="11.4" fill="#30e430" font-family='"DejaVu Sans", sans-serif' stroke="#30e430" stroke-width="0.45"><tspan x="562.35" textLength="6.36" lengthAdjust="spacingAndGlyphs">1</tspan> <tspan x="574.34" textLength="13.87" lengthAdjust="spacingAndGlyphs">IN</tspan> <tspan x="594.23" textLength="35.52" lengthAdjust="spacingAndGlyphs">15,000</tspan></text>
<line x1="639" y1="586.6" x2="782.8" y2="586.6" stroke="#30e430" stroke-width="1.5" />
<line x1="782.8" y1="582.5" x2="782.8" y2="590.5" stroke="#888" stroke-width="0.8" />
<line x1="784" y1="586.8" x2="804.3" y2="586.8" stroke="#b030e0" stroke-width="1.3" />
<text y="587.90" font-size="11.6" fill="#a428dc" font-weight="bold" stroke="#a428dc" stroke-width="0.2"><tspan x="803.94" textLength="3.31" lengthAdjust="spacingAndGlyphs">1</tspan> <tspan x="812.99" textLength="7.82" lengthAdjust="spacingAndGlyphs">IN</tspan> <tspan x="825.22" textLength="23.88" lengthAdjust="spacingAndGlyphs">11,500</tspan></text>
<line x1="848.8" y1="586.8" x2="858" y2="586.8" stroke="#b030e0" stroke-width="1.1" />
<line x1="858" y1="586.8" x2="866.6" y2="586.8" stroke="#c03060" stroke-width="1" stroke-dasharray="1.5 1.5"/>
<line x1="861.9" y1="587.1" x2="894.7" y2="587.1" stroke="#d81818" stroke-width="1.5" />
<line x1="900.3" y1="587.1" x2="925.6" y2="587.1" stroke="#d81818" stroke-width="1.5" />
<text y="583.33" font-size="11.4" fill="#d01818" font-weight="bold" stroke="#d01818" stroke-width="0.2"><tspan x="872.73" textLength="3.43" lengthAdjust="spacingAndGlyphs">1</tspan> <tspan x="881.55" textLength="8.39" lengthAdjust="spacingAndGlyphs">IN</tspan> <tspan x="895.88" textLength="19.71" lengthAdjust="spacingAndGlyphs">4,000</tspan></text>
<line x1="926.6" y1="587" x2="936.5" y2="587" stroke="#7020a0" stroke-width="1.4" />
<line x1="926.8" y1="584.3" x2="926.8" y2="589.7" stroke="#7020a0" stroke-width="1" />
<line x1="936.3" y1="584.3" x2="936.3" y2="589.7" stroke="#7020a0" stroke-width="1" />
<text y="581.80" font-size="11.6" fill="#6a18a0" font-weight="bold" stroke="#6a18a0" stroke-width="0.2"><tspan x="930.54" textLength="3.31" lengthAdjust="spacingAndGlyphs">1</tspan> <tspan x="939.18" textLength="7.93" lengthAdjust="spacingAndGlyphs">IN</tspan> <tspan x="952.56" textLength="20.25" lengthAdjust="spacingAndGlyphs">2,000</tspan></text>
</g>
<g id="reduced">
<clipPath id="cpr"><rect x="60" y="600" width="160" height="23"/></clipPath>
<text x="81.86" y="623.98" font-size="12" fill="#444" letter-spacing="-0.081" font-family='"DejaVu Sans Light", "DejaVu Sans", sans-serif' stroke="#444" stroke-width="0.12" clip-path="url(#cpr)">REDUCED DISTANCE</text>
<line x1="66.3" y1="628.6" x2="963" y2="628.6" stroke="#2a2a2a" stroke-width="1" />
<clipPath id="cpd"><rect x="200" y="590" width="760" height="38"/></clipPath>
<g clip-path="url(#cpd)">
<text x="210.58" y="627.83" transform="rotate(-90 210.58 627.83)" font-size="9.8" fill="#555" letter-spacing="1.192" font-family='"DejaVu Sans Light", "DejaVu Sans", sans-serif'>0</text>
<text x="286.98" y="625.93" transform="rotate(-90 286.98 625.93)" font-size="9.8" fill="#666" letter-spacing="0.424" font-family='"DejaVu Sans Light", "DejaVu Sans", sans-serif'>5800</text>
<text x="440.38" y="626.53" transform="rotate(-90 440.38 626.53)" font-size="9.8" fill="#555" letter-spacing="0.161" font-family='"DejaVu Sans Light", "DejaVu Sans", sans-serif'>17905</text>
<text x="789.98" y="626.04" transform="rotate(-90 789.98 626.04)" font-size="9.8" fill="#666" letter-spacing="0.252" font-family='"DejaVu Sans Light", "DejaVu Sans", sans-serif'>45316</text>
<text x="869.18" y="625.63" transform="rotate(-90 869.18 625.63)" font-size="9.8" fill="#777" letter-spacing="-0.099" font-family='"DejaVu Sans Light", "DejaVu Sans", sans-serif'>51704</text>
<text x="935.28" y="625.63" transform="rotate(-90 935.28 625.63)" font-size="9.8" fill="#999" letter-spacing="0.301" font-family='"DejaVu Sans Light", "DejaVu Sans", sans-serif'>56704</text>
<text x="945.58" y="625.63" transform="rotate(-90 945.58 625.63)" font-size="9.8" fill="#999" letter-spacing="0.337" font-family='"DejaVu Sans Light", "DejaVu Sans", sans-serif'>57140</text>
</g>
<line x1="281.3" y1="625" x2="281.3" y2="634.5" stroke="#333" stroke-width="0.9" />
<line x1="433.3" y1="625" x2="433.3" y2="634.5" stroke="#333" stroke-width="0.9" />
<line x1="781.7" y1="625" x2="781.7" y2="634.5" stroke="#777" stroke-width="0.9" />
<line x1="861.6" y1="625" x2="861.6" y2="634.5" stroke="#999" stroke-width="0.9" />
<line x1="926.6" y1="625" x2="926.6" y2="634.5" stroke="#333" stroke-width="0.9" />
<line x1="935.2" y1="626" x2="935.2" y2="634.5" stroke="#bbb" stroke-width="0.8" />
<line x1="206.5" y1="622" x2="206.5" y2="634" stroke="#ccc" stroke-width="0.8" />
<line x1="591.3" y1="622.5" x2="591.3" y2="638.5" stroke="#e2e2e2" stroke-width="0.8" />
<text x="235.67" y="616.79" font-size="7.8" fill="#7228c4" textLength="11.57" lengthAdjust="spacingAndGlyphs" stroke="#7228c4" stroke-width="0.2">5.8</text>
<text x="361.59" y="613.49" font-size="7.8" fill="#7228c4" textLength="24.72" lengthAdjust="spacingAndGlyphs" stroke="#7228c4" stroke-width="0.2">12.105</text>
<text x="495.36" y="602.69" font-size="7.8" fill="#7228c4" textLength="25.48" lengthAdjust="spacingAndGlyphs" stroke="#7228c4" stroke-width="0.2">11.935</text>
<text x="585.60" y="616.83" font-size="7.8" fill="#7228c4" textLength="24.16" lengthAdjust="spacingAndGlyphs" stroke="#7228c4" stroke-width="0.2">27.411</text>
<text x="684.79" y="602.69" font-size="7.8" fill="#7228c4" textLength="24.72" lengthAdjust="spacingAndGlyphs" stroke="#7228c4" stroke-width="0.2">15.476</text>
<text x="823.99" y="613.89" font-size="7.8" fill="#7228c4" textLength="20.46" lengthAdjust="spacingAndGlyphs" stroke="#7228c4" stroke-width="0.2">6.388</text>
<text x="884.46" y="613.89" font-size="7.8" fill="#7228c4" textLength="11.84" lengthAdjust="spacingAndGlyphs" stroke="#7228c4" stroke-width="0.2">5.0</text>
</g>
<g id="notes">
<text x="189.14" y="649.75" font-size="10.3" fill="#111" textLength="36.33" lengthAdjust="spacingAndGlyphs">NOTE:-</text>
<text x="244.30" y="649.75" font-size="10.3" fill="#111" textLength="195.62" lengthAdjust="spacingAndGlyphs">ALL DIMENSIONS ARE IN KILOMETERS</text>
<text x="244.30" y="662.55" font-size="10.3" fill="#111" textLength="214.63" lengthAdjust="spacingAndGlyphs">ALL MENTIONED LEVELS ARE IN METERS.</text>
<text x="189.51" y="691.85" font-size="10.3" fill="#111" textLength="42.28" lengthAdjust="spacingAndGlyphs">SCALE:-</text>
<text x="244.30" y="691.85" font-size="10.3" fill="#111" textLength="189.11" lengthAdjust="spacingAndGlyphs">VERTICAL-1:1 HORIZONTAL-1:1000</text>
<polyline points="143.3,661.5 143.3,677.3 160.5,677.3 160.5,673.5 147,673.5 147,661.5 143.3,661.5" fill="none" stroke="#7070d8" stroke-width="0.7"/>
<text x="137.28" y="677.95" transform="rotate(-90 137.28 677.95)" font-size="9" fill="#6868d0" letter-spacing="1.148" font-family='"DejaVu Sans Light", "DejaVu Sans", sans-serif'>1 M.</text>
<text x="138.84" y="692.31" font-size="11" fill="#6868d0" letter-spacing="0.974" font-family='"DejaVu Sans Light", "DejaVu Sans", sans-serif'>1 KM.</text>
</g>
<g id="barrage">
<text x="989.70" y="346.60" font-size="13.2" fill="#111" textLength="230.66" lengthAdjust="spacingAndGlyphs">Wazirabad Barrage at 460 m Upstream</text>
<line x1="979.6" y1="351.5" x2="1239.2" y2="351.5" stroke="#e8e8e8" stroke-width="0.8" />
<line x1="979.6" y1="361.3" x2="1239.2" y2="361.3" stroke="#a8a8a8" stroke-width="0.6" />
<line x1="979.6" y1="367.5" x2="1239.2" y2="367.5" stroke="#e8e8e8" stroke-width="0.8" />
<line x1="979.6" y1="378.3" x2="1239.2" y2="378.3" stroke="#b0b0b0" stroke-width="0.8" />
<line x1="979.6" y1="378.3" x2="979.6" y2="482" stroke="#c8c8c8" stroke-width="0.8" />
<line x1="989.5" y1="378.3" x2="989.5" y2="482" stroke="#d8d8d8" stroke-width="0.8" />
<line x1="1045.1" y1="378.3" x2="1045.1" y2="482" stroke="#dcdcdc" stroke-width="0.8" />
<line x1="1054.4" y1="378.3" x2="1054.4" y2="482" stroke="#c8c8c8" stroke-width="0.8" />
<line x1="1122.5" y1="378.3" x2="1122.5" y2="482" stroke="#a0a0a0" stroke-width="0.8" />
<line x1="1132.3" y1="378.3" x2="1132.3" y2="482" stroke="#c8c8c8" stroke-width="0.8" />
<line x1="1193.3" y1="378.3" x2="1193.3" y2="482" stroke="#a8a8a8" stroke-width="0.8" />
<line x1="1202.3" y1="378.3" x2="1202.3" y2="482" stroke="#dcdcdc" stroke-width="0.8" />
<line x1="930" y1="482.3" x2="1259.5" y2="482.3" stroke="#40d0e0" stroke-width="1.5" />
<rect x="1250" y="482.3" width="9.5" height="5.5" fill="#d8f7fa" stroke="#40d0e0" stroke-width="0.8"/>
<line x1="933.4" y1="482.3" x2="933.4" y2="514.5" stroke="#70dce6" stroke-width="0.8" />
<path d="M929.5,514 C945,520 955,528 974,528.6 C990,529 1000,526.5 1010,526.7 C1040,527.5 1060,536 1093,538.3 C1105,539.2 1125,539.4 1140,538 C1160,536.5 1175,533 1185,529 C1197,524.5 1205,519.5 1212,514 C1219,508 1222,503 1226.6,498 C1231,493 1236,490 1241.4,488.8 C1246,487.8 1250,487.6 1255,487.5" fill="none" stroke="#78e0ea" stroke-width="0.8" stroke-dasharray="9 1.2 1.5 1.2"/>
<line x1="935.6" y1="498.5" x2="1222" y2="498.5" stroke="#58d4e2" stroke-width="1" stroke-dasharray="1 3.6"/>
<line x1="937" y1="517.2" x2="1205.8" y2="517.2" stroke="#58d4e2" stroke-width="1" stroke-dasharray="1 3.6"/>
<line x1="1078" y1="536.5" x2="1146" y2="536.5" stroke="#58d4e2" stroke-width="1" stroke-dasharray="1 3.6"/>
</g>
</svg>
</body>
</html>
